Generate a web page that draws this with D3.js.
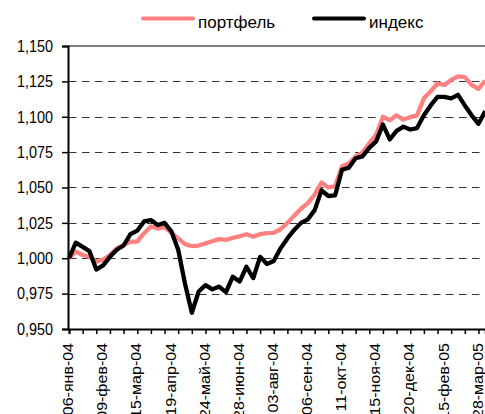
<!DOCTYPE html>
<html><head><meta charset="utf-8">
<script src="https://cdn.jsdelivr.net/npm/d3@7"></script>
<style>
body{margin:0;background:#fff;}
svg{display:block;}
text{font-family:"Liberation Sans",Arial,sans-serif;fill:#000;}
</style>
</head><body>
<svg id="chart" width="485" height="414"></svg>
<script>
const dates = [
"06-янв-04","12-янв-04","19-янв-04","26-янв-04","02-фев-04","09-фев-04","16-фев-04","24-фев-04","01-мар-04","09-мар-04",
"15-мар-04","22-мар-04","29-мар-04","05-апр-04","12-апр-04","19-апр-04","26-апр-04","04-май-04","11-май-04","17-май-04",
"24-май-04","31-май-04","07-июн-04","15-июн-04","21-июн-04","28-июн-04","05-июл-04","12-июл-04","19-июл-04","26-июл-04",
"03-авг-04","09-авг-04","16-авг-04","23-авг-04","30-авг-04","06-сен-04","13-сен-04","20-сен-04","27-сен-04","04-окт-04",
"11-окт-04","18-окт-04","25-окт-04","01-ноя-04","08-ноя-04","15-ноя-04","22-ноя-04","29-ноя-04","06-дек-04","13-дек-04",
"20-дек-04","27-дек-04","11-янв-05","18-янв-05","01-фев-05","15-фев-05","21-фев-05","28-фев-05","14-мар-05","21-мар-05",
"28-мар-05","04-апр-05"];

const portfolio = [
1.000,1.0047,1.0023,1.001,0.9976,0.999,1.0023,1.007,1.0094,1.0117,
1.0117,1.0177,1.0225,1.021,1.022,1.018,1.014,1.010,1.0085,1.009,
1.0105,1.012,1.0135,1.013,1.0145,1.0155,1.017,1.0153,1.017,1.0177,
1.018,1.0205,1.025,1.030,1.035,1.039,1.045,1.0535,1.050,1.051,
1.065,1.067,1.072,1.0747,1.0813,1.0872,1.100,1.0975,1.101,1.098,
1.0997,1.101,1.113,1.118,1.1235,1.1225,1.126,1.1285,1.128,1.1225,
1.1197,1.1255];

const indexSeries = [
1.000,1.011,1.008,1.005,0.992,0.995,1.001,1.006,1.009,1.017,
1.0195,1.026,1.027,1.0235,1.025,1.019,1.006,0.982,0.9615,0.9765,
0.981,0.978,0.980,0.976,0.987,0.9835,0.994,0.986,1.001,0.996,
0.998,1.007,1.014,1.020,1.025,1.0275,1.034,1.048,1.044,1.0445,
1.0625,1.064,1.0707,1.072,1.078,1.0825,1.0945,1.084,1.090,1.093,
1.091,1.092,1.101,1.108,1.114,1.114,1.113,1.1155,1.108,1.101,
1.095,1.104];

const yTicks = [0.950,0.975,1.000,1.025,1.050,1.075,1.100,1.125,1.150];
const seriesNames = ["портфель","индекс"];
const seriesColors = ["#ff8080","#000000"];

const svg = d3.select("#chart");
const x = d3.scalePoint().domain(dates).range([69, 485.3]);
const y = d3.scaleLinear().domain([0.95, 1.15]).range([329, 46]);

// gridlines
svg.append("g").selectAll("line")
  .data(yTicks.filter(v => v > 0.951 && v < 1.149))
  .join("line")
  .attr("x1", 69).attr("x2", 485)
  .attr("y1", d => Math.round(y(d)) + 0.5).attr("y2", d => Math.round(y(d)) + 0.5)
  .attr("stroke", "#333").attr("stroke-width", 1.2)
  .attr("stroke-dasharray", "7.5,5.5");

// top border
svg.append("line")
  .attr("x1", 68).attr("x2", 485)
  .attr("y1", y(1.15)).attr("y2", y(1.15))
  .attr("stroke", "#808080").attr("stroke-width", 2);

// y axis
const fmt = d => d3.format(".3f")(d).replace(".", ",");
const yAxis = svg.append("g")
  .attr("transform", "translate(68,0)")
  .call(d3.axisLeft(y).tickValues(yTicks).tickSize(6).tickPadding(9).tickFormat(fmt));
yAxis.select(".domain").attr("stroke", "#000").attr("stroke-width", 2);
yAxis.selectAll(".tick line").attr("stroke", "#000").attr("stroke-width", 1.5);
yAxis.selectAll(".tick text")
  .attr("font-size", 16.5)
  .attr("font-family", "Liberation Sans, Arial, sans-serif")
  .attr("textLength", 36).attr("lengthAdjust", "spacingAndGlyphs");

// x axis
const tickDates = dates.filter((d, i) => i % 2 === 0);
const labelDates = dates.filter((d, i) => i % 5 === 0 && i <= 60);
const xAxis = svg.append("g")
  .attr("transform", "translate(0,329)")
  .call(d3.axisBottom(x).tickValues(tickDates).tickSize(5).tickFormat(""));
xAxis.select(".domain").attr("stroke", "#000").attr("stroke-width", 2);
xAxis.selectAll(".tick line").attr("stroke", "#000").attr("stroke-width", 1.5);

svg.append("g").selectAll("text")
  .data(labelDates)
  .join("text")
  .attr("transform", d => `translate(${x(d)},343) scale(0.87,1) rotate(-90)`)
  .attr("text-anchor", "end")
  .attr("dy", "0.3em")
  .attr("font-size", 16)
  .text(d => d);

// lines
const line = d3.line().x((d, i) => x(dates[i])).y(d => y(d));
[portfolio, indexSeries].forEach((s, k) => {
  svg.append("path")
    .attr("d", line(s))
    .attr("fill", "none")
    .attr("stroke", seriesColors[k])
    .attr("stroke-width", 4.3)
    .attr("stroke-linejoin", "round");
});

// legend
const legendX = [143, 314];
seriesNames.forEach((n, k) => {
  svg.append("line")
    .attr("x1", legendX[k]).attr("x2", legendX[k] + 50)
    .attr("y1", 18.5).attr("y2", 18.5)
    .attr("stroke", seriesColors[k]).attr("stroke-width", 4)
    .attr("stroke-linecap", "round");
  svg.append("text")
    .attr("x", legendX[k] + 55).attr("y", 27.5)
    .attr("font-size", 17)
    .text(n);
});
</script>
</body></html>
